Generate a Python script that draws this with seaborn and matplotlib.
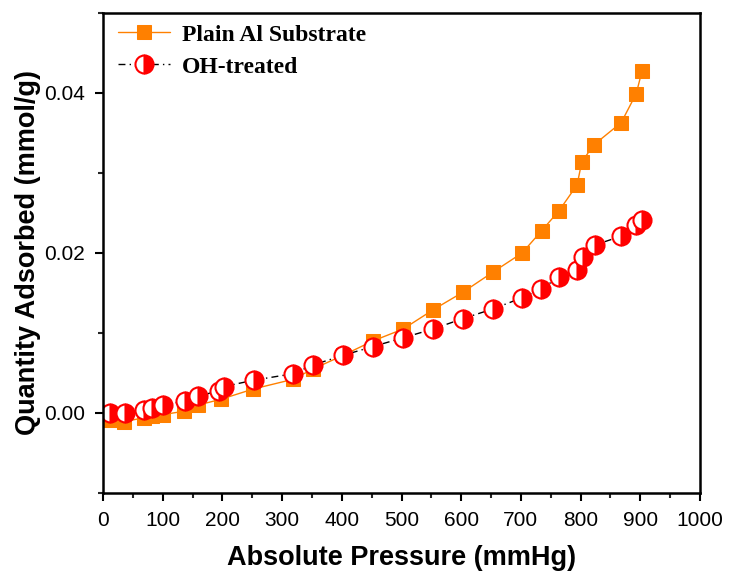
import matplotlib
matplotlib.use("Agg")
import matplotlib.pyplot as plt
import seaborn as sns
import pandas as pd
from matplotlib.ticker import MultipleLocator

# Adsorption isotherm data (pressure in mmHg, uptake in mmol/g)
plain_pressure = [12, 35, 68, 82, 100, 135, 160, 197, 252, 318, 352, 402, 452, 503,
                  553, 603, 653, 702, 735, 764, 794, 802, 822, 868, 893, 903]
plain_uptake = [-0.0009, -0.0011, -0.0006, -0.0004, -0.0002, 0.0002, 0.0010, 0.0017,
                0.0030, 0.0042, 0.0055, 0.0072, 0.0090, 0.0105, 0.0129, 0.0151,
                0.0176, 0.0200, 0.0228, 0.0253, 0.0285, 0.0314, 0.0335, 0.0363,
                0.0399, 0.0428]

oh_pressure = [12, 37, 68, 82, 100, 137, 160, 195, 202, 253, 318, 352, 402, 452, 503,
               553, 603, 653, 702, 734, 764, 794, 804, 824, 868, 893, 903]
oh_uptake = [0.0000, 0.0000, 0.0004, 0.0006, 0.0010, 0.0015, 0.0021, 0.0028, 0.0033,
             0.0041, 0.0049, 0.0060, 0.0072, 0.0083, 0.0094, 0.0105, 0.0118, 0.0130,
             0.0144, 0.0155, 0.0170, 0.0179, 0.0195, 0.0210, 0.0221, 0.0235, 0.0241]

x_ticks = [0, 100, 200, 300, 400, 500, 600, 700, 800, 900, 1000]
y_ticks = [0.00, 0.02, 0.04]

sns.set_theme(style="white")
plt.rcParams["font.family"] = ["Liberation Sans", "DejaVu Sans"]
plt.rcParams["text.color"] = "black"

plain_df = pd.DataFrame({"p": plain_pressure, "q": plain_uptake})
oh_df = pd.DataFrame({"p": oh_pressure, "q": oh_uptake})

fig = plt.figure(figsize=(7.3, 5.77), dpi=100)
ax = fig.add_axes([0.141, 0.1456, 0.818, 0.832])

sns.lineplot(data=plain_df, x="p", y="q", ax=ax, sort=False, estimator=None,
             color="#FF8000", linewidth=1.0, marker="s", markersize=10,
             markeredgecolor="#FF8000", markerfacecolor="#FF8000",
             label="Plain Al Substrate")
sns.lineplot(data=oh_df, x="p", y="q", ax=ax, sort=False, estimator=None,
             color="black", linewidth=1.0, linestyle=(0, (5, 3, 1, 3)),
             marker="o", markersize=13, markeredgewidth=1.5,
             markeredgecolor="#FF0000", markerfacecolor="#FF0000",
             fillstyle="right", markerfacecoloralt="white",
             label="OH-treated")

ax.set_xlim(0, 1000)
ax.set_ylim(-0.01, 0.05)
ax.set_xticks(x_ticks)
ax.set_yticks(y_ticks)
ax.set_yticklabels([f"{v:.2f}" for v in y_ticks])
ax.xaxis.set_minor_locator(MultipleLocator(50))
ax.yaxis.set_minor_locator(MultipleLocator(0.01))

ax.tick_params(axis="both", which="major", direction="out", length=6, width=1.5,
               labelsize=15, colors="black", pad=7,
               bottom=True, left=True, top=False, right=False)
ax.tick_params(axis="both", which="minor", direction="out", length=3.5, width=1.5,
               bottom=True, left=True, top=False, right=False)
for s in ax.spines.values():
    s.set_visible(True)
    s.set_color("black")
    s.set_linewidth(1.8)

ax.set_xlabel("Absolute Pressure (mmHg)", fontsize=19.5, fontweight="bold",
              labelpad=11, color="black")
ax.set_ylabel("Quantity Adsorbed (mmol/g)", fontsize=19.5, fontweight="bold",
              labelpad=2, color="black")

ax.legend(loc="upper left", frameon=False, handlelength=2.2, handletextpad=0.5,
          borderaxespad=0.0, borderpad=0.3, labelspacing=0.45,
          bbox_to_anchor=(0.0134, 0.9917), labelcolor="black",
          prop={"family": ["Liberation Serif"], "weight": "bold", "size": 17})

fig.savefig("out.png", dpi=100)
